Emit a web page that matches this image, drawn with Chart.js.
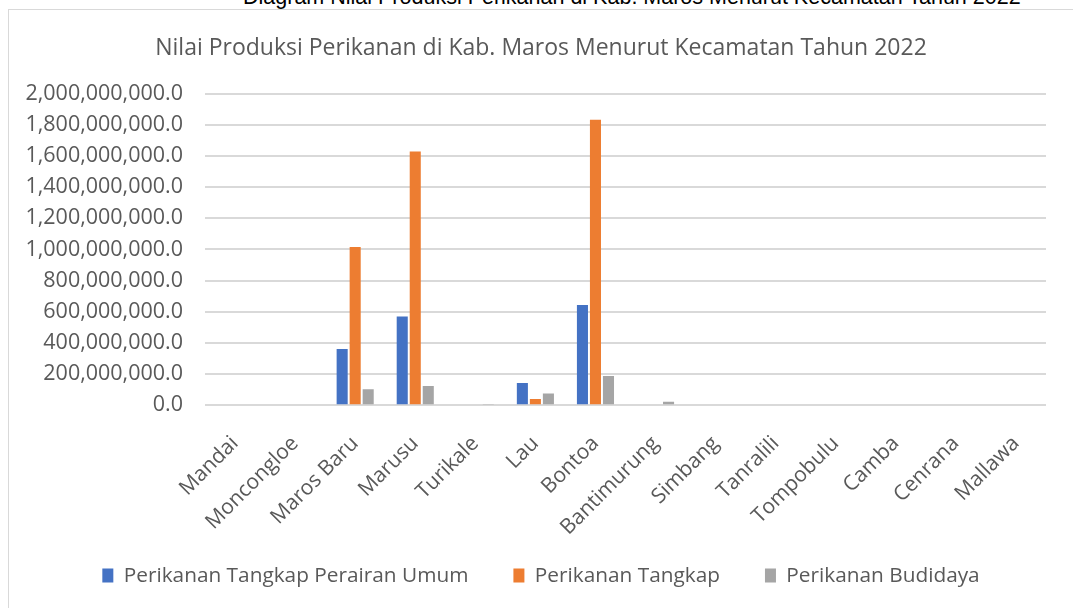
<!DOCTYPE html>
<html lang="id">
<head>
<meta charset="UTF-8">
<title>Nilai Produksi Perikanan di Kab. Maros</title>
<script src="https://cdn.jsdelivr.net/npm/chart.js@4.4.1/dist/chart.umd.min.js"></script>
<style>
    html, body {
        margin: 0;
        padding: 0;
        background: #ffffff;
        overflow: hidden;
        width: 1073px;
        height: 608px;
    }
    /* document heading sitting above the chart, partly scrolled out of view */
    .doc-heading {
        position: absolute;
        left: 243px;
        top: -13px;
        font-family: "Liberation Sans", Arial, sans-serif;
        font-size: 21.5px;
        line-height: 21px;
        color: #000;
        white-space: nowrap;
    }
    .chart-box {
        position: absolute;
        left: 8px;
        top: 9px;
        width: 1064px;
        height: 598px;
        border: 1px solid #d9d9d9;
        background: #fff;
    }
</style>
</head>
<body>

<div class="doc-heading">Diagram Nilai Produksi Perikanan di Kab. Maros Menurut Kecamatan Tahun 2022</div>

<div class="chart-box">
    <canvas id="perikananChart" width="1064" height="598"></canvas>
</div>

<script>
    // --- data per kecamatan (Rupiah) ---
    const kecamatan = ['Mandai', 'Moncongloe', 'Maros Baru', 'Marusu', 'Turikale', 'Lau', 'Bontoa',
                       'Bantimurung', 'Simbang', 'Tanralili', 'Tompobulu', 'Camba', 'Cenrana', 'Mallawa'];
    const tangkapPerairanUmum = [0, 0, 360000000, 570000000, 0, 142000000, 643000000, 0, 0, 0, 0, 0, 0, 0];
    const tangkap = [0, 0, 1015000000, 1628000000, 0, 39000000, 1832000000, 0, 0, 0, 0, 0, 0, 0];
    const budidaya = [0, 0, 103000000, 123000000, 8000000, 75000000, 187000000, 22000000, 0, 0, 0, 0, 0, 0];
    const yTicks = [0, 200000000, 400000000, 600000000, 800000000, 1000000000,
                    1200000000, 1400000000, 1600000000, 1800000000, 2000000000];

    const FONT = '"Open Sans", "Noto Sans", sans-serif';
    const TEXT = '#595959';
    const GRID = '#d9d9d9';

    const fmt = v => v.toLocaleString('en-US', { minimumFractionDigits: 1, maximumFractionDigits: 1 });

    const barStyle = color => ({
        backgroundColor: color,
        borderWidth: 0,
        categoryPercentage: 0.65,
        barPercentage: 0.85
    });

    new Chart(document.getElementById('perikananChart'), {
        type: 'bar',
        data: {
            labels: kecamatan,
            datasets: [
                { label: 'Perikanan Tangkap Perairan Umum', data: tangkapPerairanUmum, ...barStyle('#4472c4') },
                { label: 'Perikanan Tangkap', data: tangkap, ...barStyle('#ed7d31') },
                { label: 'Perikanan Budidaya', data: budidaya, ...barStyle('#a5a5a5') }
            ]
        },
        options: {
            responsive: false,
            animation: false,
            layout: { padding: { left: 0, right: 0, top: 0, bottom: 12 } },
            plugins: {
                title: {
                    display: true,
                    text: 'Nilai Produksi Perikanan di Kab. Maros Menurut Kecamatan Tahun 2022',
                    color: TEXT,
                    font: { family: FONT, size: 23, weight: 'normal' },
                    padding: { top: 25, bottom: 31 }
                },
                legend: {
                    position: 'bottom',
                    labels: {
                        color: TEXT,
                        font: { family: FONT, size: 20.8 },
                        boxWidth: 11,
                        boxHeight: 14,
                        padding: 45
                    }
                },
                tooltip: { enabled: false }
            },
            scales: {
                y: {
                    min: 0,
                    max: 2000000000,
                    afterBuildTicks: axis => { axis.ticks = yTicks.map(v => ({ value: v })); },
                    afterFit: axis => { axis.width = 196; },
                    border: { display: false },
                    grid: { color: GRID, lineWidth: 2, drawTicks: false },
                    ticks: {
                        color: TEXT,
                        padding: 22,
                        font: { family: FONT, size: 21.5 },
                        callback: v => fmt(v)
                    }
                },
                // empty right-hand strip so the plot stops short of the frame
                yRight: {
                    position: 'right',
                    afterFit: axis => { axis.width = 27; },
                    border: { display: false },
                    grid: { display: false },
                    ticks: { display: false }
                },
                x: {
                    afterFit: axis => {
                        axis.height = 115;
                        // rotated names hang below the axis box, keep them unclipped
                        axis._computeLabelArea = () => undefined;
                    },
                    border: { display: false },
                    grid: { display: false },
                    ticks: {
                        color: TEXT,
                        minRotation: 45,
                        maxRotation: 45,
                        padding: 18,
                        font: { family: FONT, size: 21 }
                    }
                }
            }
        }
    });
</script>
</body>
</html>
